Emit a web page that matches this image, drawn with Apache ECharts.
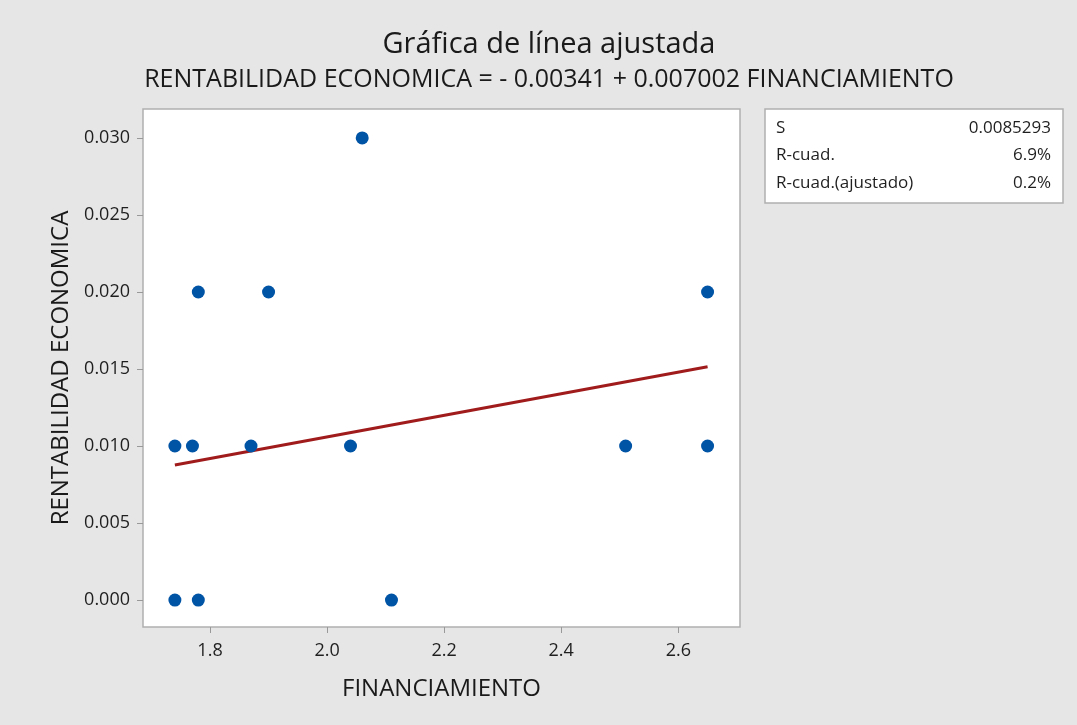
<!DOCTYPE html>
<html>
<head>
<meta charset="utf-8">
<script src="https://cdn.jsdelivr.net/npm/echarts@6/dist/echarts.min.js"></script>
<style>
html,body{margin:0;padding:0;background:#e6e6e6;}
#chart{width:1077px;height:725px;}
</style>
</head>
<body>
<div id="chart"></div>
<script>
// ---- data ----
const financiamiento = [1.74, 1.77, 1.87, 2.04, 2.51, 2.65, 1.78, 1.90, 2.65, 2.06, 1.74, 1.78, 2.11];
const rentabilidad   = [0.010, 0.010, 0.010, 0.010, 0.010, 0.010, 0.020, 0.020, 0.020, 0.030, 0.000, 0.000, 0.000];
const fitCoef = [-0.00341, 0.007002]; // intercept, slope
const xTicks = [1.8, 2.0, 2.2, 2.4, 2.6];
const yTicks = [0.000, 0.005, 0.010, 0.015, 0.020, 0.025, 0.030];
const titleText = 'Gráfica de línea ajustada';
const subtitleText = 'RENTABILIDAD ECONOMICA = - 0.00341 + 0.007002 FINANCIAMIENTO';
const statLabels = ['S', 'R-cuad.', 'R-cuad.(ajustado)'];
const statValues = ['0.0085293', '6.9%', '0.2%'];
const xName = 'FINANCIAMIENTO';
const yName = 'RENTABILIDAD ECONOMICA';

const points = financiamiento.map((x, i) => [x, rentabilidad[i]]);
const xMinD = Math.min(...financiamiento), xMaxD = Math.max(...financiamiento);
const fitLine = [xMinD, xMaxD].map(x => [x, fitCoef[0] + fitCoef[1] * x]);

const FONT = '"Open Sans", "Noto Sans", sans-serif';
const chart = echarts.init(document.getElementById('chart'));

const statGraphics = [{
  type: 'rect',
  shape: {x: 765, y: 109, width: 298, height: 94},
  style: {fill: '#ffffff', stroke: '#b0b0b0', lineWidth: 1.5}
}];
statLabels.forEach((t, i) => {
  statGraphics.push({type: 'text', x: 776, y: 128 + i * 27.5,
    style: {text: t, fill: '#1f1f1f', font: '17px ' + FONT, verticalAlign: 'middle', align: 'left'}});
  statGraphics.push({type: 'text', x: 1051, y: 128 + i * 27.5,
    style: {text: statValues[i], fill: '#1f1f1f', font: '17px ' + FONT, verticalAlign: 'middle', align: 'right'}});
});

chart.setOption({
  backgroundColor: '#e6e6e6',
  animation: false,
  title: [
    {text: titleText, left: 544, textAlign: 'center', top: 25,
     textStyle: {fontFamily: FONT, fontSize: 29, fontWeight: 'normal', color: '#1a1a1a'}},
    {text: subtitleText, left: 544, textAlign: 'center', top: 62,
     textStyle: {fontFamily: FONT, fontSize: 25, fontWeight: 'normal', color: '#1a1a1a'}}
  ],
  grid: {left: 143, right: 337, top: 109, bottom: 98, show: true,
         backgroundColor: '#ffffff', borderColor: '#b0b0b0', borderWidth: 1.5},
  xAxis: {
    type: 'value', min: 1.6855, max: 2.7054,
    name: xName, nameLocation: 'middle', nameGap: 50,
    nameTextStyle: {fontFamily: FONT, fontSize: 24, color: '#1a1a1a'},
    axisLine: {show: false, onZero: false},
    splitLine: {show: false},
    axisTick: {show: true, length: 6, customValues: xTicks, lineStyle: {color: '#999'}},
    axisLabel: {customValues: xTicks, margin: 15, fontFamily: FONT, fontSize: 18, color: '#1f1f1f',
                formatter: v => v.toFixed(1)}
  },
  yAxis: {
    type: 'value', min: -0.00175, max: 0.03188,
    name: yName, nameLocation: 'middle', nameGap: 70,
    nameTextStyle: {fontFamily: FONT, fontSize: 24, color: '#1a1a1a'},
    axisLine: {show: false, onZero: false},
    splitLine: {show: false},
    axisTick: {show: true, length: 6, customValues: yTicks, lineStyle: {color: '#999'}},
    axisLabel: {customValues: yTicks, margin: 13, fontFamily: FONT, fontSize: 18, color: '#1f1f1f',
                formatter: v => v.toFixed(3)}
  },
  series: [
    {type: 'line', data: fitLine, showSymbol: false, symbol: 'none',
     lineStyle: {color: '#a01c1c', width: 3}, z: 2},
    {type: 'scatter', data: points, symbol: 'circle', symbolSize: 13,
     itemStyle: {color: '#0054a6', opacity: 1}, z: 3}
  ],
  graphic: statGraphics
});
</script>
</body>
</html>
